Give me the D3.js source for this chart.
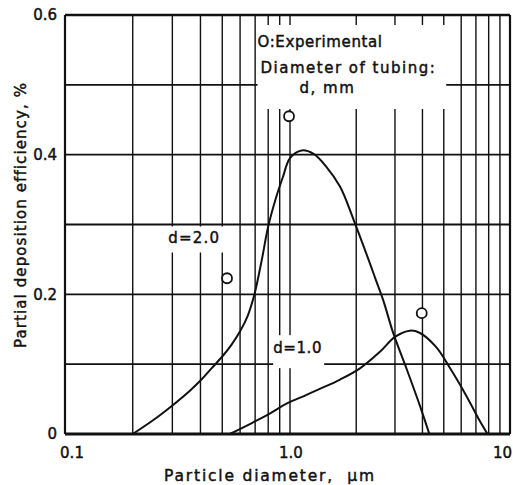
<!DOCTYPE html>
<html>
<head>
<meta charset="utf-8">
<script src="https://cdn.jsdelivr.net/npm/d3@7"></script>
<style>
  html, body { margin: 0; padding: 0; background: #fff; }
  svg { display: block; }
  text { font-family: "DejaVu Sans", sans-serif; fill: #111; stroke: #111; stroke-width: 0.45px; white-space: pre; }
</style>
</head>
<body>
<div id="chart"></div>
<script>
/* Partial deposition efficiency vs particle diameter, two tubing diameters */
var xTickVals = [0.1, 1, 10];
var xTickLabels = ['0.1', '1.0', '10'];
var yTickVals = [0, 0.2, 0.4, 0.6];
var yTickLabels = ['0', '0.2', '0.4', '0.6'];
var xGridVals = [0.2, 0.3, 0.4, 0.5, 0.6, 0.7, 0.8, 0.9, 2, 3, 4, 5, 6, 7, 8, 9];
var yGridVals = [0.1, 0.2, 0.3, 0.4, 0.5];

// d = 2.0 mm curve
var d2X = [0.2, 0.247, 0.303, 0.359, 0.404, 0.448, 0.5, 0.55, 0.6, 0.65, 0.695, 0.75, 0.8, 0.87, 0.93, 1.0, 1.13, 1.28, 1.46, 1.69, 1.95, 2.31, 2.46, 2.65, 2.95, 3.4, 3.9, 4.3];
var d2Y = [0, 0.02, 0.042, 0.062, 0.078, 0.094, 0.111, 0.128, 0.147, 0.17, 0.2, 0.25, 0.297, 0.34, 0.368, 0.395, 0.406, 0.401, 0.383, 0.354, 0.306, 0.244, 0.22, 0.192, 0.144, 0.092, 0.04, 0];
// d = 1.0 mm curve
var d1X = [0.54, 0.68, 0.82, 0.96, 1.15, 1.35, 1.69, 2.08, 2.57, 3.0, 3.5, 3.88, 4.6, 5.3, 6.3, 7.25, 7.9];
var d1Y = [0, 0.016, 0.03, 0.043, 0.054, 0.064, 0.078, 0.094, 0.118, 0.139, 0.148, 0.145, 0.125, 0.096, 0.056, 0.02, 0];
// experimental points
var expX = [0.525, 0.99, 3.97];
var expY = [0.223, 0.455, 0.173];

(function () {
  'use strict';
  var W = 513, H = 485;
  var margin = { top: 15, right: 3, bottom: 51, left: 65 };
  var iw = W - margin.left - margin.right;
  var ih = H - margin.top - margin.bottom;

  var svg = d3.select('#chart').append('svg').attr('width', W).attr('height', H);
  var g = svg.append('g').attr('transform', 'translate(' + margin.left + ',' + margin.top + ')');

  // scanned scale: first decade a bit wider than the second
  var x = d3.scaleLog().domain([0.1, 1, 10]).range([0, 225, iw]);
  var y = d3.scaleLinear().domain([0, 0.6]).range([ih, 0]);

  /* grid */
  var grid = g.append('g').attr('stroke', '#111').attr('fill', 'none');
  grid.selectAll('line.v').data(xGridVals.concat([1])).enter().append('line')
    .attr('class', 'v')
    .attr('x1', function (d) { return x(d); }).attr('x2', function (d) { return x(d); })
    .attr('y1', 0).attr('y2', ih).attr('stroke-width', 1.4);
  grid.selectAll('line.h').data(yGridVals).enter().append('line')
    .attr('class', 'h')
    .attr('x1', 0).attr('x2', iw)
    .attr('y1', function (d) { return y(d); }).attr('y2', function (d) { return y(d); })
    .attr('stroke-width', 1.8);

  /* white masks behind labels (gridlines break there) */
  var masks = g.append('g');
  var labels = g.append('g');

  function maskFor(sel, pad) {
    var b = sel.node().getBBox();
    masks.append('rect')
      .attr('x', b.x - pad.l).attr('y', b.y - pad.t)
      .attr('width', b.width + pad.l + pad.r).attr('height', b.height + pad.t + pad.b)
      .attr('fill', '#fff');
  }

  var legend = labels.append('g');
  legend.append('text').attr('x', x(0.71) + 1).attr('y', 32)
    .style('font-size', '15px').style('letter-spacing', '0.6px').text('O:Experimental');
  legend.append('text').attr('x', x(0.71) + 4).attr('y', 58)
    .style('font-size', '15px').style('letter-spacing', '1.5px').text('Diameter of tubing:');
  legend.append('text').attr('x', x(0.71) + 43).attr('y', 78)
    .style('font-size', '15px').style('letter-spacing', '1.5px').text('d, mm');
  maskFor(legend, { l: 0, r: 10, t: 8, b: 12 });

  var l2 = labels.append('text').attr('x', x(0.3) - 4).attr('y', y(0.3) + 18)
    .style('font-size', '15px').style('letter-spacing', '1.2px').text('d=2.0');
  maskFor(l2, { l: 8, r: 10, t: 2, b: 6 });

  var l1 = labels.append('text').attr('x', x(0.8) + 5).attr('y', y(0.1) - 11)
    .style('font-size', '15px').style('letter-spacing', '0.6px').text('d=1.0');
  maskFor(l1, { l: 0, r: 2, t: 4, b: 11 });

  /* frame */
  g.append('line').attr('x1', 0).attr('x2', iw).attr('y1', 0).attr('y2', 0)
    .attr('stroke', '#111').attr('stroke-width', 2.5);
  g.append('line').attr('x1', 0).attr('x2', iw).attr('y1', ih).attr('y2', ih)
    .attr('stroke', '#111').attr('stroke-width', 3);
  g.append('line').attr('x1', 0).attr('x2', 0).attr('y1', 0).attr('y2', ih)
    .attr('stroke', '#111').attr('stroke-width', 2.2);
  g.append('line').attr('x1', iw).attr('x2', iw).attr('y1', 0).attr('y2', ih)
    .attr('stroke', '#111').attr('stroke-width', 2.2);

  /* curves */
  var line = d3.line()
    .x(function (d) { return x(d[0]); })
    .y(function (d) { return y(d[1]); })
    .curve(d3.curveCatmullRom.alpha(0.5));
  var d2 = d3.zip(d2X, d2Y);
  var d1 = d3.zip(d1X, d1Y);
  g.append('path').datum(d2).attr('d', line)
    .attr('fill', 'none').attr('stroke', '#111').attr('stroke-width', 2);
  g.append('path').datum(d1).attr('d', line)
    .attr('fill', 'none').attr('stroke', '#111').attr('stroke-width', 2);

  /* experimental points */
  g.selectAll('circle.exp').data(d3.zip(expX, expY)).enter().append('circle')
    .attr('class', 'exp')
    .attr('cx', function (d) { return x(d[0]); })
    .attr('cy', function (d) { return y(d[1]); })
    .attr('r', 5).attr('fill', '#fff').attr('stroke', '#111').attr('stroke-width', 1.8);

  /* tick labels */
  g.selectAll('text.xt').data(xTickVals).enter().append('text')
    .attr('class', 'xt')
    .attr('x', function (d, i) { return i === 2 ? W - margin.left - 1 : x(d) + (i === 0 ? 7 : 1); })
    .attr('y', ih + 24)
    .attr('text-anchor', function (d, i) { return i === 2 ? 'end' : 'middle'; })
    .style('font-size', '15px')
    .text(function (d, i) { return xTickLabels[i]; });

  g.selectAll('text.yt').data(yTickVals).enter().append('text')
    .attr('class', 'yt')
    .attr('x', -8)
    .attr('y', function (d) { return y(d); })
    .attr('dy', '0.36em')
    .attr('text-anchor', 'end')
    .style('font-size', '15px')
    .text(function (d, i) { return yTickLabels[i]; });

  /* axis titles */
  svg.append('text')
    .attr('x', 270).attr('y', 481)
    .attr('text-anchor', 'middle')
    .style('font-size', '15.5px').style('letter-spacing', '1.8px')
    .text('Particle diameter,  \u03bcm');

  svg.append('text')
    .attr('transform', 'translate(26,215) rotate(-90)')
    .attr('text-anchor', 'middle')
    .style('font-size', '15px').style('letter-spacing', '1.1px')
    .text('Partial deposition efficiency, %');
})();
</script>
</body>
</html>
